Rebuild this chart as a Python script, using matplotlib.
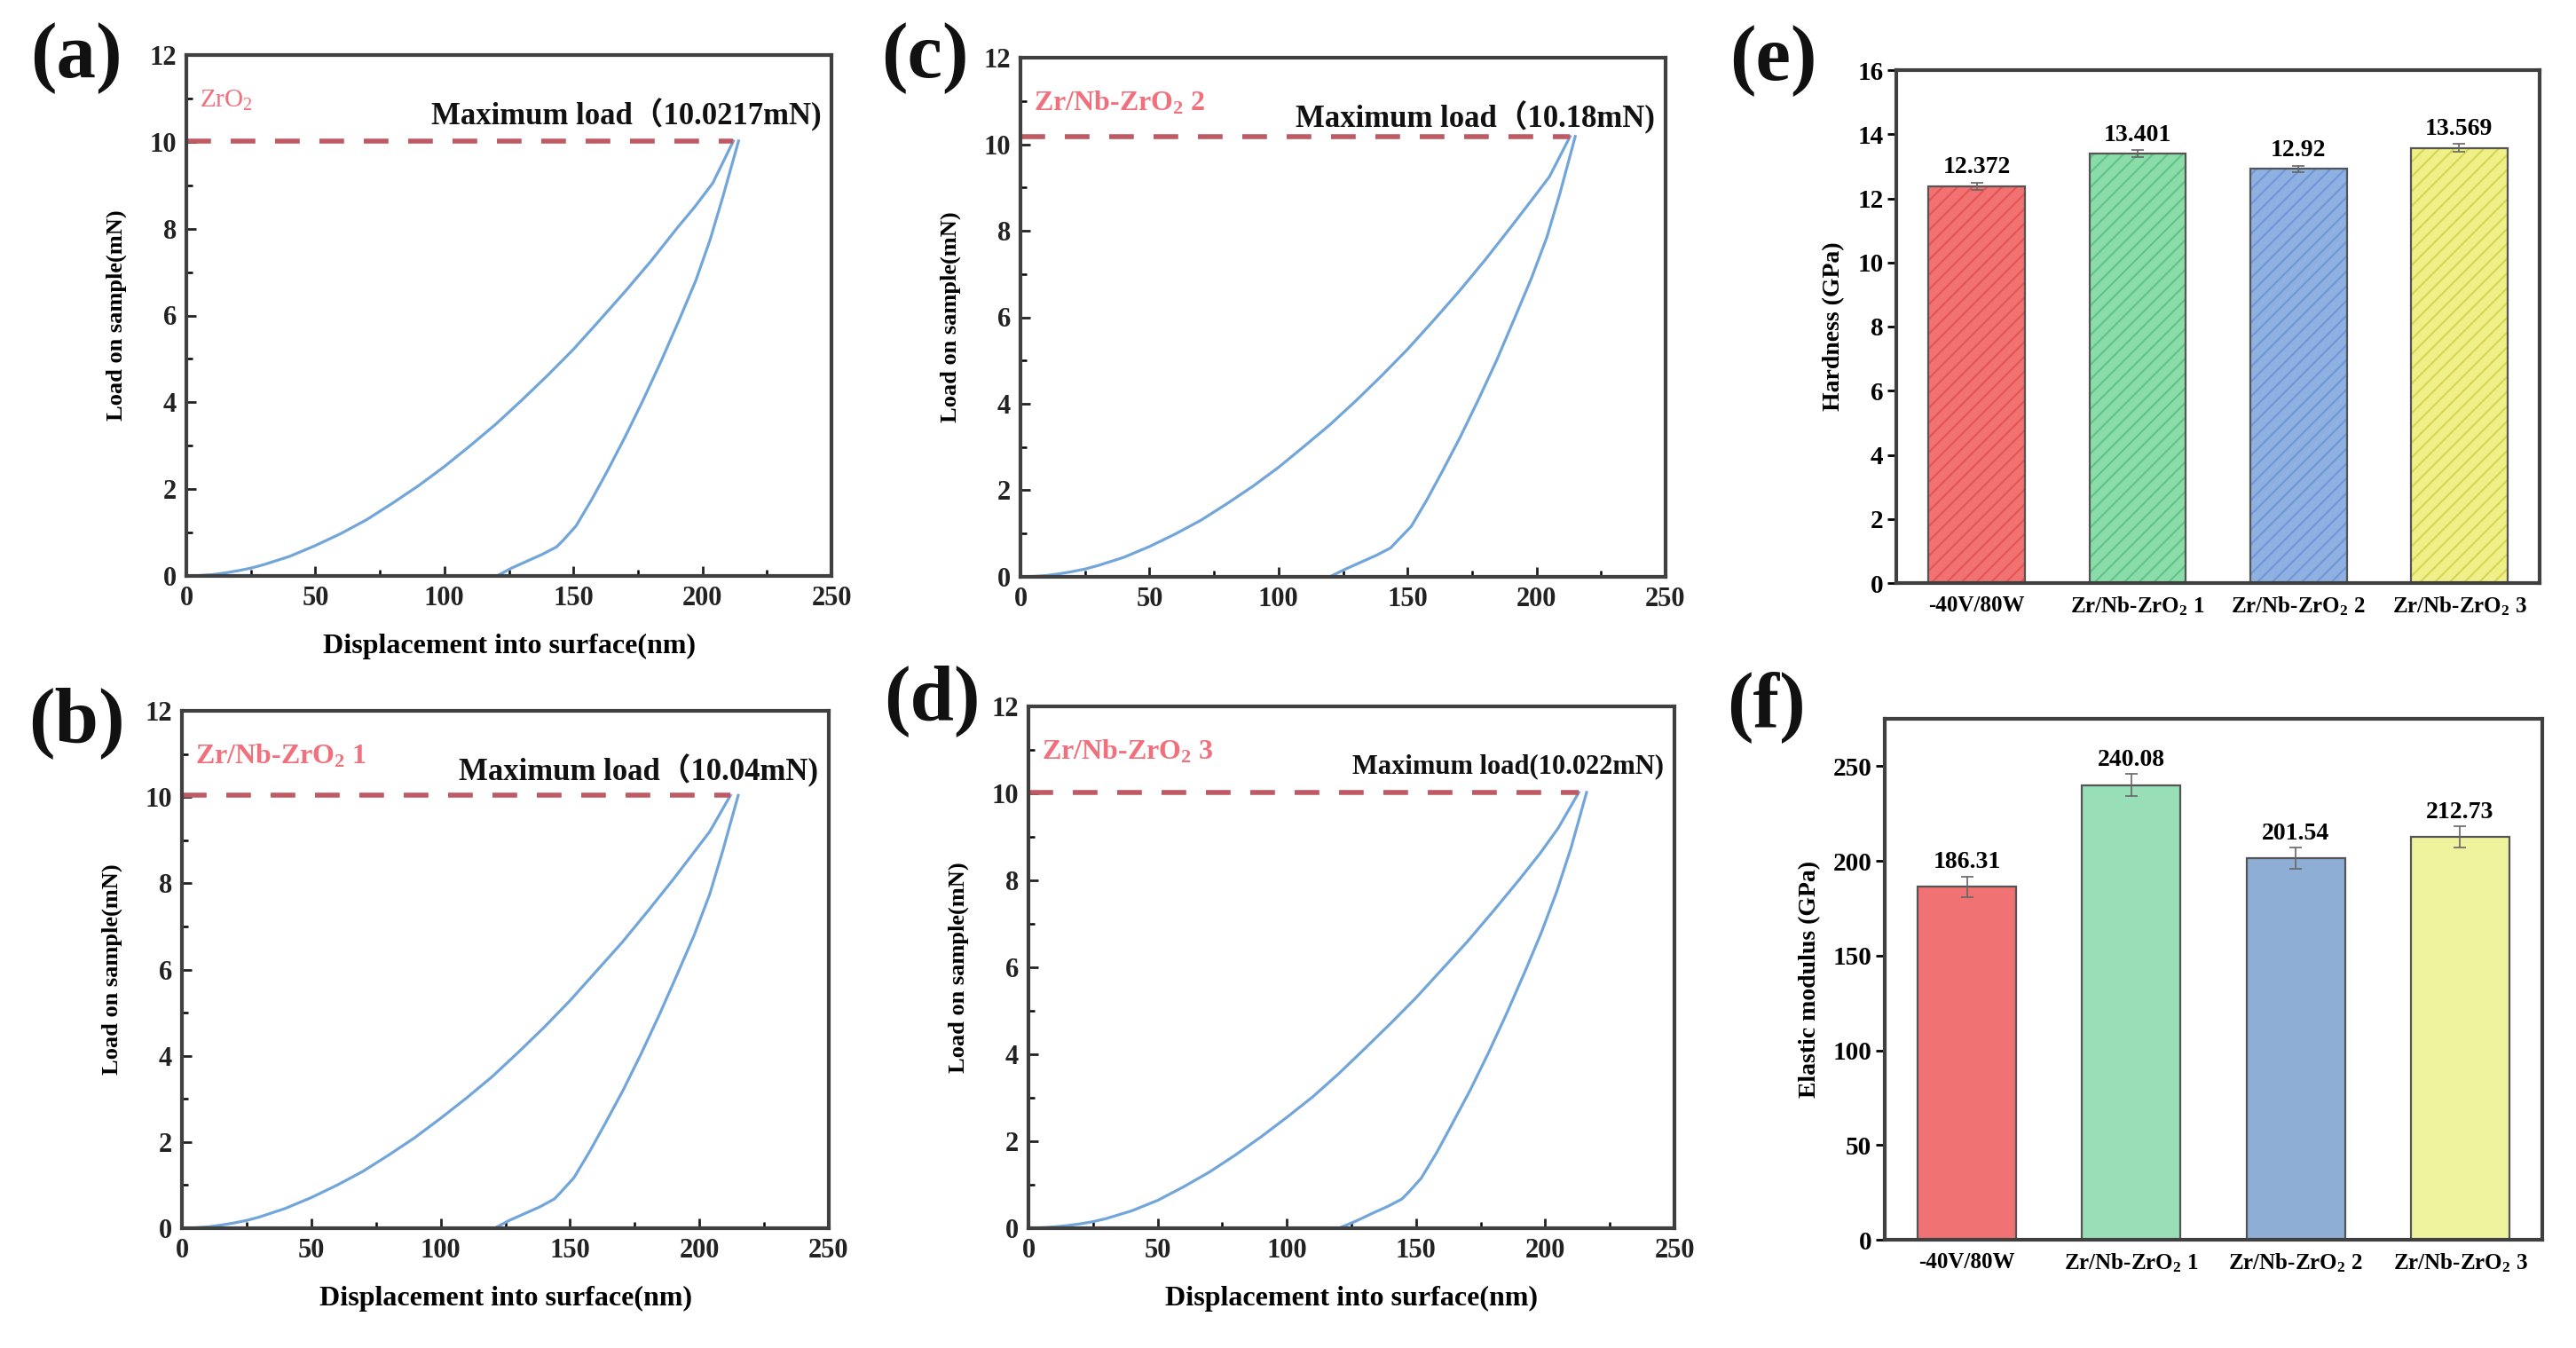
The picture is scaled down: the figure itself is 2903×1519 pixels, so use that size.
import matplotlib
matplotlib.use("Agg")
import matplotlib.pyplot as plt
import numpy as np

plt.rcParams['font.family'] = ['Liberation Serif', 'Noto Sans CJK SC']
plt.rcParams['font.weight'] = 'bold'
plt.rcParams['axes.labelweight'] = 'bold'
plt.rcParams['mathtext.default'] = 'regular'
plt.rcParams['hatch.linewidth'] = 1.6

W, H = 2903, 1519

# ---- data ----
# load-displacement curves, (x in nm, y in mN)
a_load_x = [0, 5, 10, 15, 20, 25, 30, 40, 50, 60, 70, 80, 90, 100, 110, 120, 130,
            140, 150, 160, 170, 180, 190, 197, 204, 212]
a_load_y = [0, 0.01, 0.03, 0.07, 0.12, 0.18, 0.26, 0.45, 0.7, 0.98, 1.3, 1.68, 2.08,
            2.52, 3.0, 3.5, 4.05, 4.62, 5.22, 5.88, 6.55, 7.25, 8.0, 8.5, 9.05, 10.02]
a_unload_x = [214, 208, 203, 197.4, 191, 184, 177, 170, 163, 157, 151, 146, 143.5,
              138, 132, 126, 121]
a_unload_y = [10.02, 8.75, 7.75, 6.8, 5.9, 4.95, 4.05, 3.2, 2.4, 1.75, 1.15, 0.82,
              0.67, 0.5, 0.34, 0.18, 0.02]

b_load_x = [0, 5, 10, 15, 20, 25, 30, 40, 50, 60, 70, 80, 90, 100, 110, 120, 130,
            140, 150, 160, 170, 180, 190, 197, 204, 212]
b_load_y = [0, 0.01, 0.03, 0.07, 0.12, 0.18, 0.26, 0.46, 0.71, 1.0, 1.32, 1.7, 2.1,
            2.55, 3.02, 3.52, 4.08, 4.66, 5.28, 5.95, 6.62, 7.35, 8.1, 8.65, 9.2, 10.04]
b_unload_x = [215, 209, 204, 198, 191.5, 184.5, 177.5, 170.5, 163.5, 157.5, 151.5,
              146.5, 144, 138.5, 132.5, 126.5, 121.5]
b_unload_y = [10.04, 8.75, 7.75, 6.8, 5.9, 4.95, 4.05, 3.2, 2.42, 1.77, 1.17, 0.84,
              0.68, 0.5, 0.34, 0.18, 0.02]

c_load_x = [0, 5, 10, 15, 20, 25, 30, 40, 50, 60, 70, 80, 90, 100, 110, 120, 130,
            140, 150, 160, 170, 180, 190, 198, 205, 213]
c_load_y = [0, 0.01, 0.03, 0.07, 0.12, 0.18, 0.26, 0.45, 0.7, 0.99, 1.31, 1.69, 2.09,
            2.53, 3.02, 3.52, 4.07, 4.65, 5.26, 5.92, 6.6, 7.32, 8.08, 8.7, 9.25, 10.18]
c_unload_x = [215, 209, 204, 198, 191.5, 184.5, 177.5, 170.5, 163.5, 157.5, 151.5,
              146, 143.5, 138, 132, 126, 120.5]
c_unload_y = [10.18, 8.85, 7.85, 6.9, 5.98, 5.0, 4.1, 3.24, 2.44, 1.78, 1.17, 0.83,
              0.67, 0.5, 0.34, 0.18, 0.02]

d_load_x = [0, 5, 10, 15, 20, 25, 30, 40, 50, 60, 70, 80, 90, 100, 110, 120, 130,
            140, 150, 160, 170, 180, 190, 198, 205, 213]
d_load_y = [0, 0.01, 0.03, 0.06, 0.1, 0.15, 0.22, 0.4, 0.64, 0.95, 1.29, 1.68, 2.1,
            2.55, 3.02, 3.55, 4.12, 4.7, 5.3, 5.95, 6.6, 7.3, 8.02, 8.62, 9.2, 10.022]
d_unload_x = [216, 210, 204.5, 198.5, 192, 185, 178, 171, 164, 158, 152, 147, 144.5,
              139, 133, 127, 121]
d_unload_y = [10.022, 8.75, 7.75, 6.8, 5.88, 4.93, 4.03, 3.18, 2.4, 1.74, 1.15, 0.82,
              0.67, 0.5, 0.34, 0.17, 0.02]

max_loads = [10.0217, 10.04, 10.18, 10.022]
sample_names = ['ZrO$_2$', 'Zr/Nb-ZrO$_2$ 1', 'Zr/Nb-ZrO$_2$ 2', 'Zr/Nb-ZrO$_2$ 3']
max_texts = ['Maximum load（10.0217mN)', 'Maximum load（10.04mN)',
             'Maximum load（10.18mN)', 'Maximum load(10.022mN)']

# bar charts
groups = ['-40V/80W', 'Zr/Nb-ZrO$_2$ 1', 'Zr/Nb-ZrO$_2$ 2', 'Zr/Nb-ZrO$_2$ 3']
hardness = [12.372, 13.401, 12.92, 13.569]
hardness_err = [0.12, 0.1, 0.1, 0.12]
modulus = [186.31, 240.08, 201.54, 212.73]
modulus_err = [5.5, 6.0, 5.5, 5.5]

hard_face = ['#f27272', '#8adda9', '#8fb1e2', '#f0f088']
hard_hatch = ['#e25656', '#62c48a', '#7098d6', '#d6d656']
mod_face = ['#f07272', '#98dfb8', '#8eaed6', '#eff29c']


def rect(x0, x1, y0, y1):
    return [x0 / W, 1 - y1 / H, (x1 - x0) / W, (y1 - y0) / H]


def bold_ticks(ax):
    for lab in ax.get_xticklabels() + ax.get_yticklabels():
        lab.set_fontweight('bold')


fig = plt.figure(figsize=(W / 100, H / 100), dpi=100)

curve_axes = [
    fig.add_axes(rect(210, 937, 62, 649)),    # a
    fig.add_axes(rect(205, 934, 801, 1384)),  # b
    fig.add_axes(rect(1150, 1877, 65, 650)),  # c
    fig.add_axes(rect(1159, 1887, 796, 1384)),  # d
]
curves = [
    (a_load_x, a_load_y, a_unload_x, a_unload_y),
    (b_load_x, b_load_y, b_unload_x, b_unload_y),
    (c_load_x, c_load_y, c_unload_x, c_unload_y),
    (d_load_x, d_load_y, d_unload_x, d_unload_y),
]

for i, ax in enumerate(curve_axes):
    lx, ly, ux, uy = curves[i]
    ax.plot(lx, ly, color='#72a6da', lw=2.3)
    ax.plot(ux, uy, color='#72a6da', lw=2.3)
    ax.plot([0, lx[-1]], [max_loads[i], max_loads[i]], color='#bf5a64',
            lw=4, dashes=(5, 4))
    ax.set_xlim(0, 250)
    ax.set_ylim(0, 12)
    ax.set_xticks(np.arange(0, 251, 50))
    ax.set_xticks(np.arange(25, 250, 50), minor=True)
    ax.set_yticks(np.arange(0, 13, 2))
    ax.set_yticks(np.arange(1, 12, 2), minor=True)
    ax.tick_params(which='major', direction='in', length=8, width=2,
                   labelsize=22, pad=8, colors='#222222')
    ax.tick_params(which='minor', direction='in', length=5, width=1.8)
    bold_ticks(ax)
    for sp in ax.spines.values():
        sp.set_linewidth(3)
        sp.set_color('#404040')
    ax.set_ylabel('Load on sample(mN)', fontsize=19, labelpad=18)
    if i != 2:
        ax.set_xlabel('Displacement into surface(nm)', fontsize=23, labelpad=18)
    ax.text(5, 10.95, sample_names[i], color='#f0707c', fontsize=23 if i else 21,
            weight='bold' if i else 'normal', va='center', ha='left')
    ax.text(246, 10.62, max_texts[i], color='#111111',
            fontsize=22 if i == 3 else 25, va='center', ha='right')

# (e) hardness
axe = fig.add_axes(rect(2137, 2862, 79, 657))
xpos = np.arange(len(groups))
axe.bar(xpos, hardness, width=0.6, color=hard_face, edgecolor=hard_hatch,
        hatch='//', lw=0)
axe.bar(xpos, hardness, width=0.6, fill=False, edgecolor='#555555', lw=1.6)
axe.errorbar(xpos, hardness, yerr=hardness_err, fmt='none', ecolor='#666666',
             elinewidth=1.2, capsize=5, capthick=1.2)
for x, v, e in zip(xpos, hardness, hardness_err):
    axe.text(x, v + e + 0.12, f'{v:g}', ha='center', va='bottom', fontsize=20)
axe.set_xlim(-0.5, 3.5)
axe.set_ylim(0, 16)
axe.set_yticks(np.arange(0, 17, 2))
axe.set_xticks(xpos)
axe.set_xticklabels(groups)
axe.set_ylabel('Hardness (GPa)', fontsize=20, labelpad=10)

# (f) elastic modulus
axf = fig.add_axes(rect(2124, 2865, 810, 1397))
axf.bar(xpos, modulus, width=0.6, color=mod_face, edgecolor='#555555', lw=1.6)
axf.errorbar(xpos, modulus, yerr=modulus_err, fmt='none', ecolor='#666666',
             elinewidth=1.2, capsize=5, capthick=1.2)
for x, v, e in zip(xpos, modulus, modulus_err):
    axf.text(x, v + e + 1.5, f'{v:.2f}', ha='center', va='bottom', fontsize=20)
axf.set_xlim(-0.5, 3.5)
axf.set_ylim(0, 275)
axf.set_yticks(np.arange(0, 251, 50))
axf.set_xticks(xpos)
axf.set_xticklabels(groups)
axf.set_ylabel('Elastic modulus (GPa)', fontsize=20, labelpad=10)

for ax in (axe, axf):
    ax.tick_params(axis='y', direction='out', length=7, width=2, labelsize=21)
    ax.tick_params(axis='x', length=0, labelsize=18, pad=10)
    bold_ticks(ax)
    for sp in ax.spines.values():
        sp.set_linewidth(3)
        sp.set_color('#404040')

# panel letters
letters = [('(a)', 86, 66), ('(b)', 86, 815), ('(c)', 1042, 66),
           ('(d)', 1050, 790), ('(e)', 1998, 69), ('(f)', 1991, 797)]
for s, px, py in letters:
    fig.text(px / W, 1 - py / H, s, fontsize=64, weight='bold',
             ha='center', va='center', color='#111111')

fig.savefig('out.png', dpi=100)
